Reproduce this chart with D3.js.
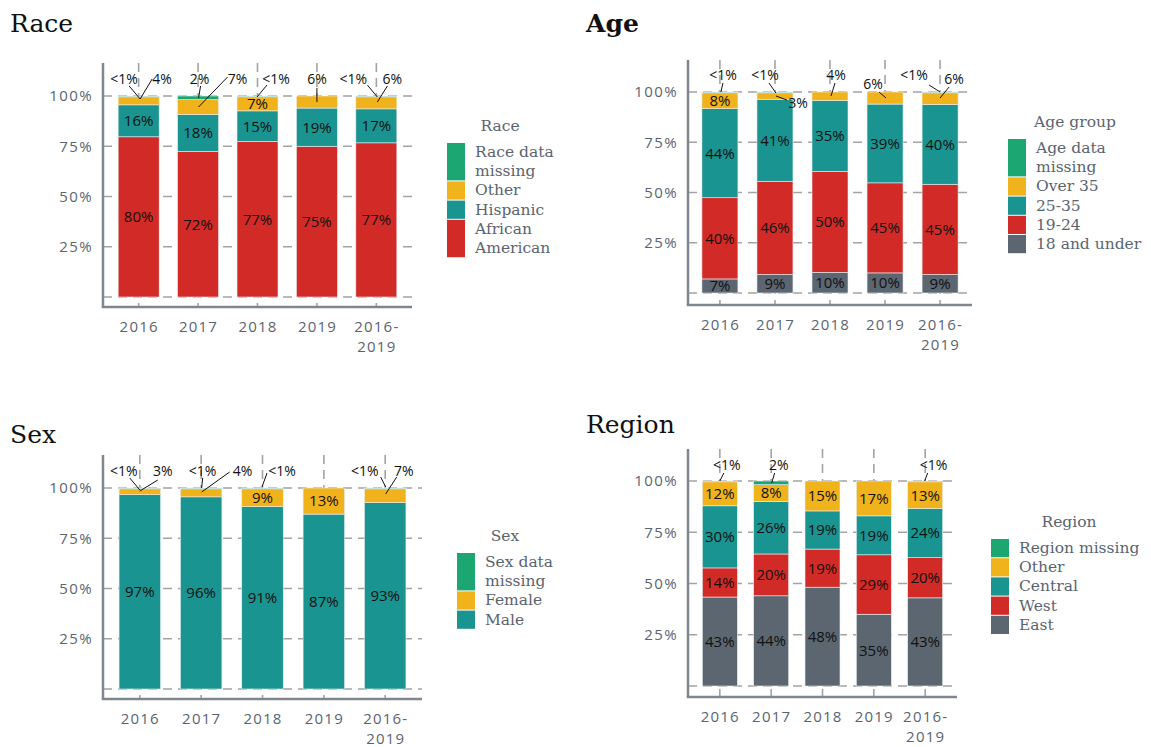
<!DOCTYPE html>
<html><head><meta charset="utf-8">
<script src="https://cdn.jsdelivr.net/npm/d3@7/dist/d3.min.js"></script>
<style>body{margin:0;background:#fff}</style>
</head><body>
<svg id="c" width="1151" height="747"></svg>
<script>
// ---------- DATA ----------
const categories = ["2016", "2017", "2018", "2019", "2016-2019"];
const yTicks = [25, 50, 75, 100];

// Race (bottom to top)
const raceSeries = ["African American", "Hispanic", "Other", "Race data missing"];
const raceAfricanAmerican = [79.7, 72.4, 77.4, 75.0, 76.7];
const raceHispanic        = [15.9, 18.4, 15.2, 19.0, 16.9];
const raceOther           = [4.0, 7.4, 7.0, 6.0, 6.0];
const raceMissing         = [0.4, 1.8, 0.4, 0, 0.4];

// Age group (bottom to top)
const ageSeries = ["18 and under", "19-24", "25-35", "Over 35", "Age data missing"];
const age18Under = [7.0, 9.2, 10.3, 10.0, 9.2];
const age19to24  = [40.4, 46.4, 50.2, 44.8, 44.9];
const age25to35  = [44.3, 40.8, 35.3, 39.2, 39.7];
const ageOver35  = [7.9, 3.2, 4.2, 6.0, 5.8];
const ageMissing = [0.4, 0.4, 0, 0, 0.4];

// Sex (bottom to top)
const sexSeries = ["Male", "Female", "Sex data missing"];
const sexMale    = [96.7, 95.6, 90.7, 87.0, 92.7];
const sexFemale  = [2.9, 4.0, 8.9, 13.0, 6.9];
const sexMissing = [0.4, 0.4, 0.4, 0, 0.4];

// Region (bottom to top)
const regionSeries = ["East", "West", "Central", "Other", "Region missing"];
const regionEast    = [43.4, 44.0, 48.2, 35.0, 43.0];
const regionWest    = [14.2, 20.4, 18.6, 29.0, 19.6];
const regionCentral = [30.3, 25.6, 18.6, 19.0, 24.0];
const regionOther   = [11.7, 8.2, 14.6, 17.0, 13.0];
const regionMissing = [0.4, 1.8, 0, 0, 0.4];

// ---------- STYLE ----------
const C = {green: "#1ba672", yellow: "#f1b31c", teal: "#1a9490", red: "#d22b27", gray: "#5b6670"};
const textGray = "#5a6470";
const svg = d3.select("#c");

function fmt(v) { return v < 1 ? "<1%" : Math.round(v) + "%"; }

function panel(cfg) {
  const g = svg.append("g");
  const x = d3.scalePoint().domain(categories).range(cfg.xRange).padding(cfg.pad);
  const y = d3.scaleLinear().domain([0, 100]).range([cfg.y0, cfg.y100]);

  // title
  g.append("text").attr("x", cfg.title[1]).attr("y", cfg.title[2])
    .attr("font-family", "DejaVu Serif").attr("font-size", 25)
    .attr("font-weight", cfg.titleBold ? "bold" : "normal")
    .attr("fill", "#111").text(cfg.title[0]);

  // gridlines
  const grid = g.append("g").attr("stroke", "#a3a3a3").attr("stroke-width", 1.6)
    .attr("stroke-dasharray", "9,6");
  [0].concat(yTicks).forEach(t => {
    grid.append("line").attr("x1", cfg.xRange[0]).attr("x2", cfg.xRange[1])
      .attr("y1", y(t)).attr("y2", y(t));
  });
  categories.forEach(c => {
    grid.append("line").attr("x1", x(c)).attr("x2", x(c))
      .attr("y1", cfg.axisTop).attr("y2", cfg.axisBottom);
  });

  // stacked bars
  const rows = categories.map((c, i) => {
    const o = {cat: c};
    cfg.series.forEach((s, j) => o[s] = cfg.values[j][i]);
    return o;
  });
  const stacked = d3.stack().keys(cfg.series)(rows);
  const bw = cfg.barW;
  stacked.forEach((layer, j) => {
    g.append("g").selectAll("rect").data(layer).join("rect")
      .attr("x", d => x(d.data.cat) - bw / 2)
      .attr("width", bw)
      .attr("y", d => y(d[1]))
      .attr("height", d => Math.max(0, y(d[0]) - y(d[1])))
      .attr("fill", cfg.colors[j])
      .attr("stroke", "#e8eef0").attr("stroke-width", 0.6);
  });

  // in-bar labels
  const annotated = new Set(cfg.ann.map(a => a[0] + "-" + a[1]));
  stacked.forEach((layer, j) => {
    layer.forEach((d, i) => {
      const v = d[1] - d[0];
      if (v <= 0 || annotated.has(i + "-" + j)) return;
      g.append("text").attr("x", x(d.data.cat)).attr("y", y((d[0] + d[1]) / 2))
        .attr("dy", "0.36em").attr("text-anchor", "middle")
        .attr("font-family", "Open Sans").attr("font-size", 15)
        .attr("fill", "#111").text(fmt(v));
    });
  });

  // annotations: [cat, series, textDx, textDy, sx, sy, ex, ey]
  cfg.ann.forEach(a => {
    const cx = x(categories[a[0]]), top = y(100);
    const v = cfg.values[a[1]][a[0]];
    g.append("line").attr("x1", cx + a[4]).attr("y1", top + a[5])
      .attr("x2", cx + a[6]).attr("y2", top + a[7])
      .attr("stroke", "#111").attr("stroke-width", 1);
    g.append("text").attr("x", cx + a[2]).attr("y", top + a[3])
      .attr("text-anchor", "middle").attr("font-family", "Open Sans")
      .attr("font-size", 14).attr("fill", "#111").text(fmt(v));
  });

  // axis lines
  g.append("line").attr("x1", cfg.xRange[0]).attr("x2", cfg.xRange[0])
    .attr("y1", cfg.axisTop).attr("y2", cfg.axisBottom)
    .attr("stroke", "#80868e").attr("stroke-width", 2.5);
  g.append("line").attr("x1", cfg.xRange[0] - 1.25).attr("x2", cfg.xRange[1])
    .attr("y1", cfg.axisBottom).attr("y2", cfg.axisBottom)
    .attr("stroke", "#80868e").attr("stroke-width", 2.5);

  // y tick labels
  const ya = g.append("g").attr("transform", `translate(${cfg.xRange[0]},0)`)
    .call(d3.axisLeft(y).tickValues(yTicks).tickSize(0).tickPadding(10).tickFormat(d => d + "%"));
  ya.select(".domain").remove();
  ya.selectAll("text").attr("font-family", "Open Sans").attr("font-size", 15)
    .attr("letter-spacing", "1.4px").attr("fill", textGray);

  // x tick labels
  const xa = g.append("g").attr("transform", `translate(0,${cfg.axisBottom})`)
    .call(d3.axisBottom(x).tickSize(0).tickPadding(0).tickFormat(""));
  xa.select(".domain").remove();
  xa.selectAll(".tick").each(function(d) {
    const parts = d.includes("-") ? [d.split("-")[0] + "-", d.split("-")[1]] : [d];
    const t = d3.select(this).append("text").attr("text-anchor", "middle")
      .attr("font-family", "Open Sans").attr("font-size", 15)
      .attr("letter-spacing", "1.2px").attr("fill", textGray);
    parts.forEach((p, k) => t.append("tspan").attr("x", 0).attr("y", 25 + k * 20).text(p));
  });

  // legend
  const L = cfg.legend;
  g.append("text").attr("x", L.titleX).attr("y", L.top - 12).attr("text-anchor", "middle")
    .attr("font-family", "DejaVu Serif").attr("font-size", 15.5).attr("fill", textGray)
    .text(L.title);
  let yy = L.top;
  L.items.forEach((lines, k) => {
    const colIdx = cfg.series.length - 1 - k;
    g.append("rect").attr("x", L.x).attr("y", yy).attr("width", 18)
      .attr("height", lines.length * 19.2 - 1).attr("fill", cfg.colors[colIdx]);
    lines.forEach((ln, m) => {
      g.append("text").attr("x", L.x + 28).attr("y", yy + 14 + m * 19.2)
        .attr("font-family", "DejaVu Serif").attr("font-size", 15.5)
        .attr("fill", textGray).text(ln);
    });
    yy += lines.length * 19.2;
  });
}

panel({
  title: ["Race", 10, 32], titleBold: false,
  series: raceSeries,
  values: [raceAfricanAmerican, raceHispanic, raceOther, raceMissing],
  colors: [C.red, C.teal, C.yellow, C.green],
  xRange: [103, 412], pad: 0.6, barW: 41,
  y0: 297, y100: 96, axisTop: 63, axisBottom: 307,
  ann: [
    [0, 3, -14.5, -12, -9.5, -10, 1.5, 3],
    [0, 2, 23.5, -12, 13.5, -17, 1.5, 3],
    [1, 3, 1.5, -12, 2.5, -10, 0.5, 2],
    [1, 2, 39.5, -12, 29.5, -19, 0.5, 11],
    [2, 3, 18.5, -12, 9.5, -11, -0.5, 1],
    [3, 2, 0, -12, 0, -8, 0, 6],
    [4, 3, -23, -12, -9, -11, 1, 1],
    [4, 2, 16, -12, 11, -10, 1, 6]
  ],
  legend: {title: "Race", titleX: 500, x: 447, top: 143,
    items: [["Race data", "missing"], ["Other"], ["Hispanic"], ["African", "American"]]}
});

panel({
  title: ["Age", 586, 32], titleBold: true,
  series: ageSeries,
  values: [age18Under, age19to24, age25to35, ageOver35, ageMissing],
  colors: [C.gray, C.red, C.teal, C.yellow, C.green],
  xRange: [688, 972], pad: 0.58, barW: 36,
  y0: 293, y100: 92, axisTop: 60, axisBottom: 305,
  ann: [
    [0, 4, 3, -12, 3, -9, 1, 0],
    [1, 4, -10, -12, -6, -9, 1, 1],
    [1, 3, 23, 16, 1, 4, 12, 8],
    [2, 3, 6, -12, 5, -9, 1, 4],
    [3, 3, -12, -3, -6, 0, 1, 6],
    [4, 4, -26, -12, -11, -7, 0, 0],
    [4, 3, 14, -8, 9, -5, 0, 6]
  ],
  legend: {title: "Age group", titleX: 1075, x: 1008, top: 139,
    items: [["Age data", "missing"], ["Over 35"], ["25-35"], ["19-24"], ["18 and under"]]}
});

panel({
  title: ["Sex", 10, 443], titleBold: false,
  series: sexSeries,
  values: [sexMale, sexFemale, sexMissing],
  colors: [C.teal, C.yellow, C.green],
  xRange: [103, 422], pad: 0.6, barW: 41.5,
  y0: 689, y100: 488, axisTop: 455, axisBottom: 699,
  ann: [
    [0, 2, -16, -12, -10, -10, 0, 2],
    [0, 1, 23, -12, 18, -8, 0, 3],
    [1, 2, 1.5, -12, 1.5, -10, 0.5, 0],
    [1, 1, 41.5, -12, 28.5, -16, 0.5, 4],
    [2, 2, 19.5, -12, 4.5, -15, -0.5, -1],
    [4, 2, -20.5, -12, -4.5, -11, 0.5, -1],
    [4, 1, 18.5, -12, 11.5, -11, 0.5, 6]
  ],
  legend: {title: "Sex", titleX: 505, x: 457, top: 553,
    items: [["Sex data", "missing"], ["Female"], ["Male"]]}
});

panel({
  title: ["Region", 586, 433], titleBold: false,
  series: regionSeries,
  values: [regionEast, regionWest, regionCentral, regionOther, regionMissing],
  colors: [C.gray, C.red, C.teal, C.yellow, C.green],
  xRange: [688, 957], pad: 0.62, barW: 35,
  y0: 686, y100: 481, axisTop: 449, axisBottom: 697,
  ann: [
    [0, 4, 7, -11, 4, -8, 0, 0],
    [1, 4, 7.5, -11, 3.5, -8, 0.5, 2],
    [4, 4, 8.5, -11, 2.5, -8, -0.5, 0]
  ],
  legend: {title: "Region", titleX: 1069, x: 991, top: 539,
    items: [["Region missing"], ["Other"], ["Central"], ["West"], ["East"]]}
});
</script>
</body></html>
